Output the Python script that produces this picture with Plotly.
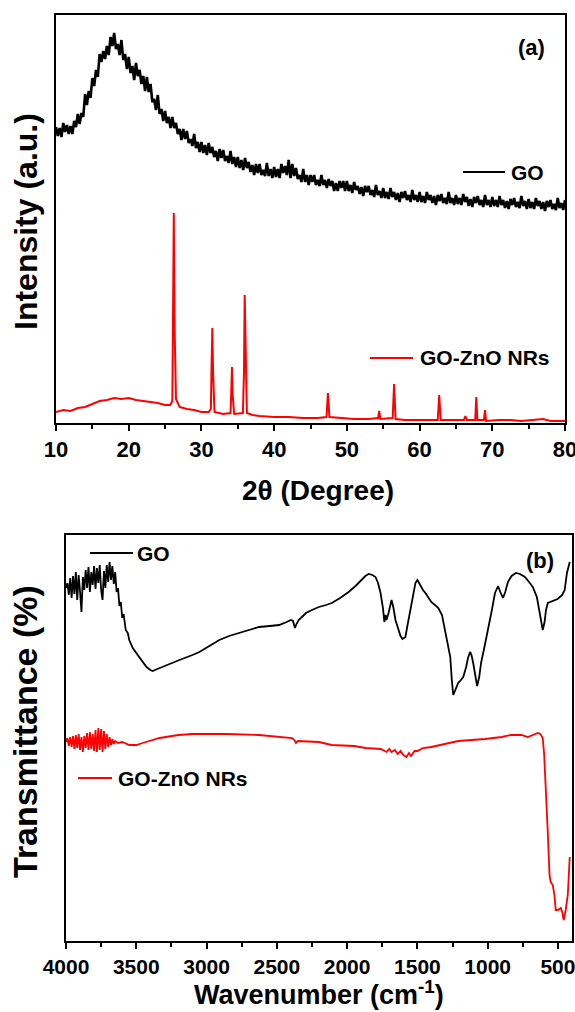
import numpy as np
import plotly.graph_objects as go

W, H = 575, 1012

# ---------------- (a) XRD data ----------------
xrd_two_theta_go = np.arange(10.0, 80.001, 0.25)
xrd_go = [296, 287, 295, 286, 300, 291, 298, 289, 297, 289, 302, 296, 309, 299, 310, 306,
          329, 318, 332, 325, 345, 337, 353, 346, 369, 361, 372, 364, 377, 368, 386, 377,
          390, 374, 379, 368, 383, 363, 369, 354, 366, 350, 357, 343, 360, 347, 353, 339,
          347, 332, 346, 331, 339, 321, 324, 313, 328, 309, 314, 302, 312, 300, 306, 295,
          306, 295, 300, 289, 294, 283, 294, 284, 292, 280, 284, 277, 289, 275, 281, 271,
          281, 270, 278, 268, 280, 270, 276, 266, 272, 262, 274, 265, 273, 262, 267, 260,
          272, 259, 266, 256, 266, 255, 263, 253, 265, 255, 261, 251, 258, 248, 259, 250,
          259, 248, 253, 247, 260, 247, 254, 245, 256, 246, 254, 245, 259, 250, 257, 248,
          263, 245, 259, 247, 255, 244, 248, 241, 254, 241, 248, 238, 248, 241, 248, 238,
          243, 237, 248, 238, 243, 235, 244, 237, 242, 232, 240, 232, 242, 235, 242, 232,
          242, 232, 238, 230, 241, 233, 237, 229, 236, 227, 237, 231, 237, 228, 233, 226,
          238, 228, 232, 225, 235, 225, 231, 224, 235, 226, 231, 223, 230, 221, 231, 225,
          232, 223, 228, 221, 233, 223, 228, 221, 231, 221, 227, 220, 231, 223, 228, 220,
          227, 218, 228, 222, 229, 220, 225, 219, 231, 220, 225, 218, 228, 219, 225, 218,
          229, 221, 226, 217, 224, 216, 226, 220, 227, 218, 223, 216, 228, 218, 223, 216,
          226, 217, 223, 216, 227, 218, 223, 215, 222, 214, 224, 218, 225, 216, 221, 215,
          227, 217, 222, 214, 224, 215, 221, 214, 225, 217, 222, 214, 221, 212, 222, 216,
          223, 214, 219, 213, 225, 215, 220, 213, 223]

xrd_two_theta_zno = [10.0, 11.0, 12.0, 13.0, 14.0, 15.0, 16.0, 17.0, 18.0, 19.0, 20.0, 21.0,
                     22.0, 23.0, 24.0, 25.0, 25.7, 26.0, 26.1, 26.2, 26.3, 26.5, 27.0, 28.0,
                     29.0, 30.0, 31.0, 31.3, 31.4, 31.5, 31.6, 31.8, 33.0, 34.0, 34.1, 34.2,
                     34.3, 34.5, 35.7, 35.85, 35.95, 36.05, 36.25, 37.0, 38.0, 40.0, 42.0,
                     44.0, 46.0, 47.2, 47.4, 47.6, 49.0, 51.0, 53.0, 54.3, 54.45, 54.6, 56.3,
                     56.5, 56.7, 58.0, 60.0, 62.5, 62.7, 62.9, 64.0, 66.1, 66.3, 66.5, 67.65,
                     67.8, 67.95, 68.85, 69.0, 69.15, 71.0, 72.5, 74.0, 77.0, 78.0, 80.0]
xrd_zno = [11, 13, 12, 15, 16, 19, 22, 23, 25, 24, 25, 23,
           22, 21, 20, 18, 18, 22, 90, 210, 100, 24, 16, 14,
           13, 11, 11, 14, 60, 95, 50, 11, 9, 10, 30, 56,
           28, 9, 10, 50, 128, 70, 10, 8, 7, 6, 6,
           5, 5, 6, 30, 6, 5, 4, 4, 5, 12, 4, 5,
           39, 4, 3, 3, 3, 28, 3, 3, 3, 7, 3, 3,
           26, 3, 3, 13, 2, 3, 3, 2, 4, 2, 2]

# ---------------- (b) FTIR data ----------------
ftir_wn_go = [4000, 3990, 3980, 3970, 3960, 3950, 3940, 3930, 3920, 3910, 3900, 3890, 3880,
              3870, 3860, 3850, 3840, 3830, 3820, 3810, 3800, 3790, 3780, 3770, 3760, 3750,
              3740, 3730, 3720, 3710, 3700, 3690, 3680, 3670, 3660, 3650, 3640, 3630, 3620,
              3610, 3600, 3590, 3575, 3560, 3550, 3525, 3500, 3476, 3450, 3427, 3400, 3384,
              3350, 3285, 3193, 3100, 3051, 2980, 2909, 2840, 2768, 2700, 2626, 2550, 2484,
              2430, 2400, 2385, 2371, 2360, 2345, 2329, 2293, 2250, 2201, 2150, 2109, 2050,
              1989, 1940, 1897, 1870, 1847, 1820, 1798, 1780, 1762, 1745, 1735, 1727, 1720,
              1705, 1684, 1670, 1656, 1635, 1620, 1606, 1585, 1570, 1550, 1530, 1514, 1500,
              1485, 1460, 1443, 1420, 1401, 1375, 1351, 1325, 1302, 1285, 1266, 1255, 1245,
              1230, 1210, 1190, 1174, 1153, 1140, 1125, 1115, 1103, 1090, 1075, 1060, 1047,
              1020, 997, 970, 948, 926, 910, 891, 875, 856, 830, 799, 770, 735, 700, 679,
              650, 630, 615, 608, 595, 585, 572, 540, 502, 470, 452, 436, 425, 416]
ftir_go = [353, 358, 346, 363, 343, 365, 347, 369, 341, 366, 349, 329, 364,
           351, 371, 353, 374, 349, 369, 356, 375, 352, 373, 358, 376, 351,
           341, 370, 353, 376, 359, 379, 361, 375, 357, 369, 349, 353, 335,
           339, 323, 327, 311, 308, 301, 293, 288, 283, 278, 274, 271, 270,
           272, 276, 281, 286, 289, 295, 301, 305, 308, 311, 314, 315, 316,
           319, 321, 320, 313, 317, 321, 323, 328, 331, 334, 336, 338, 343,
           349, 355, 361, 365, 367, 366, 364, 358, 348, 333, 319, 326, 321,
           328, 341, 333, 321, 311, 305, 302, 304, 316, 331, 346, 358, 361,
           357, 351, 348, 343, 339, 336, 333, 326, 311, 298, 284, 261, 246,
           251, 258, 261, 264, 274, 283, 289, 286, 278, 266, 255, 264, 278,
           296, 314, 331, 348, 355, 349, 343, 349, 359, 365, 368, 367, 364, 358, 354,
           344, 329, 316, 311, 319, 331, 338, 340, 342, 346, 351, 368, 375, 379]

ftir_wn_zno = [4000, 3990, 3980, 3970, 3960, 3950, 3940, 3930, 3920, 3910, 3900, 3890, 3880,
               3870, 3860, 3850, 3840, 3830, 3820, 3810, 3800, 3790, 3780, 3770, 3760, 3750,
               3740, 3730, 3720, 3710, 3700, 3690, 3680, 3670, 3660, 3650, 3630, 3600, 3550,
               3500, 3455, 3400, 3334, 3200, 3100, 2860, 2626, 2392, 2375, 2364,
               2350, 2201, 2109, 1950, 1868, 1760, 1720, 1700, 1684, 1660, 1640, 1620, 1600,
               1578, 1560, 1545, 1520, 1500, 1460, 1401, 1300, 1210, 1019, 900, 835, 760,
               714, 660, 643, 625, 608, 598, 587, 572, 560, 552, 537, 525, 516, 500, 480,
               470, 459, 445, 430, 416]
ftir_zno = [199, 203, 195, 204, 194, 205, 192, 206, 193, 207, 191, 204, 189,
            205, 193, 208, 191, 209, 192, 207, 190, 211, 189, 213, 191, 212,
            189, 210, 192, 207, 194, 204, 196, 202, 197, 200, 198, 199, 196,
            196, 198, 200, 203, 206, 207, 207, 206, 203, 201, 198,
            200, 199, 196, 195, 193, 192, 189, 192, 189, 191, 187, 190, 186,
            184, 188, 185, 190, 190, 193, 194, 197, 200, 202, 204, 206, 206,
            204, 207, 208, 207, 203, 186, 158, 108, 66, 59, 56, 46, 31, 31, 33,
            29, 21, 31, 46, 84]

xrd_ticks = [10, 20, 30, 40, 50, 60, 70, 80]
ftir_ticks = [4000, 3500, 3000, 2500, 2000, 1500, 1000, 500]

# ---------------- figure ----------------
FONT = "Liberation Sans"


def px(x):
    return x / W


def py(y):
    return 1 - y / H


fig = go.Figure()
fig.add_trace(go.Scatter(x=xrd_two_theta_go, y=xrd_go, mode="lines",
                         line=dict(color="black", width=2.6), xaxis="x", yaxis="y",
                         showlegend=False))
fig.add_trace(go.Scatter(x=xrd_two_theta_zno, y=xrd_zno, mode="lines",
                         line=dict(color="#ff0000", width=2), xaxis="x", yaxis="y",
                         showlegend=False))
fig.add_trace(go.Scatter(x=ftir_wn_go, y=ftir_go, mode="lines",
                         line=dict(color="black", width=1.8), xaxis="x2", yaxis="y2",
                         showlegend=False))
fig.add_trace(go.Scatter(x=ftir_wn_zno, y=ftir_zno, mode="lines",
                         line=dict(color="#ff0000", width=1.8), xaxis="x2", yaxis="y2",
                         showlegend=False))

common_x = dict(showline=True, linewidth=2, linecolor="black", mirror=True,
                ticks="outside", ticklen=6, tickwidth=2, tickcolor="black",
                showgrid=False, zeroline=False, automargin=False,
                ticklabeloverflow="allow")
common_y = dict(showline=True, linewidth=2, linecolor="black", mirror=True,
                ticks="", showticklabels=False, showgrid=False, zeroline=False,
                automargin=False)

fig.update_layout(
    template="none",
    width=W, height=H, margin=dict(l=0, r=0, t=0, b=0, pad=0, autoexpand=False),
    paper_bgcolor="white", plot_bgcolor="white", showlegend=False,
    xaxis=dict(domain=[px(56), px(565)], range=[10, 80], anchor="y",
               tickvals=xrd_ticks,
               tickfont=dict(family=FONT, size=22, color="black", weight="bold"),
               minor=dict(dtick=5, tick0=10, ticks="outside", ticklen=4, tickwidth=2,
                          tickcolor="black"),
               **common_x),
    yaxis=dict(domain=[py(423), py(15)], range=[0, 408], anchor="x", **common_y),
    xaxis2=dict(domain=[px(66), px(572)], range=[4000, 400], anchor="y2",
                tickvals=ftir_ticks,
                tickfont=dict(family=FONT, size=21, color="black", weight="bold"),
                minor=dict(dtick=250, tick0=0, ticks="outside", ticklen=4, tickwidth=2,
                           tickcolor="black"),
                **common_x),
    yaxis2=dict(domain=[py(941), py(535)], range=[0, 406], anchor="x2", **common_y),
)


def label(text, x, y, size=21, xanchor="left", angle=0, yanchor="middle"):
    fig.add_annotation(text=text, x=px(x), y=py(y), xref="paper", yref="paper",
                       showarrow=False, xanchor=xanchor, yanchor=yanchor,
                       textangle=angle,
                       font=dict(family=FONT, size=size, color="black", weight="bold"))


def legend_line(x0, x1, y, color):
    fig.add_shape(type="line", xref="paper", yref="paper",
                  x0=px(x0), x1=px(x1), y0=py(y), y1=py(y),
                  line=dict(color=color, width=2))


# panel (a)
label("(a)", 531, 48, size=22, xanchor="center")
legend_line(463, 505, 172, "black")
label("GO", 509, 172)
legend_line(370, 413, 358, "#ff0000")
label("GO-ZnO NRs", 418, 358)
label("2θ (Degree)", 318, 490, size=28, xanchor="center")
label("Intensity (a.u.)", 26, 222, size=32, xanchor="center", angle=-90)

# panel (b)
label("(b)", 540, 560, size=22, xanchor="center")
legend_line(90, 133, 553, "black")
label("GO", 135, 553)
legend_line(78, 112, 778, "#ff0000")
label("GO-ZnO NRs", 116, 778)
label("Wavenumber (cm<sup>-1</sup>)", 319, 1012, size=27, xanchor="center",
      yanchor="bottom")
label("Transmittance (%)", 25, 732, size=34, xanchor="center", angle=-90)

fig.write_html("out.html",
               config={"displayModeBar": False, "staticPlot": True},
               post_script="document.body.style.margin='0px';"
                           "document.body.style.overflow='hidden';")
